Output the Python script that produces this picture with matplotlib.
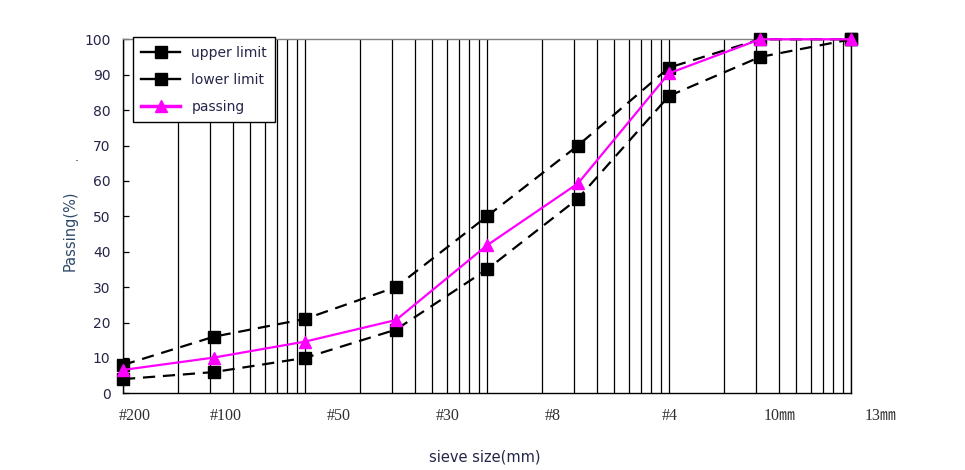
import matplotlib
matplotlib.use("Agg")
import matplotlib.pyplot as plt
from matplotlib.lines import Line2D
from matplotlib.transforms import blended_transform_factory

# sieve positions on the chart's log axis (evenly spaced, half a decade apart)
sieve_x = [0.5, 1.581, 5, 15.81, 50, 158.1, 500, 1581, 5000]

upper = [8, 16, 21, 30, 50, 70, 92, 100, 100]
lower = [4, 6, 10, 18, 35, 55, 84, 95, 100]
passing = [6.6, 10.1, 14.6, 20.7, 41.8, 59.3, 90.4, 100, 100]

# tick labels as printed under the axis (they do not sit on the points)
tick_text = ["#200", "#100", "#50", "#30", "#8", "#4", "10㎜", "13㎜"]
tick_x = [0.58, 1.84, 7.7, 30.5, 115, 506, 2037, 7310]

TXT = "#25254a"

fig = plt.figure(figsize=(9.65, 4.7), dpi=100)
ax = fig.add_axes([123/965, 1 - 393.3/470, 728/965, 354/470])
ax.set_xscale("log")
ax.set_xlim(0.5, 5000)
ax.set_ylim(0, 100)

# vertical grid: 1, 1.5, ... 5 in each decade
for dec in [0.1, 1, 10, 100, 1000]:
    for k in [1, 1.5, 2, 2.5, 3, 3.5, 4, 4.5, 5]:
        v = k * dec
        if 0.5 <= v <= 5000:
            ax.axvline(v, color="black", lw=0.9, zorder=1)

dash = dict(color="black", lw=1.6, dashes=(5.5, 3.5), marker="s", markersize=8.3,
            markerfacecolor="black", markeredgecolor="black", clip_on=False, zorder=3)
ax.plot(sieve_x, upper, **dash)
ax.plot(sieve_x, lower, **dash)
ax.plot(sieve_x, passing, color="#ff00ff", lw=1.6, marker="^", markersize=9,
        markerfacecolor="#ff00ff", markeredgecolor="#ff00ff", clip_on=False, zorder=4)

ax.set_yticks(range(0, 101, 10))
ax.tick_params(axis="y", direction="in", length=4, width=0.9, labelsize=10,
               labelcolor=TXT, pad=9)
ax.set_xticks([])
ax.xaxis.set_minor_locator(matplotlib.ticker.NullLocator())

for s in ["left", "bottom", "right"]:
    ax.spines[s].set_color("black")
    ax.spines[s].set_linewidth(1.0)
ax.spines["top"].set_color("#808080")
ax.spines["top"].set_linewidth(1.0)

tr = blended_transform_factory(ax.transData, ax.transAxes)
for t, x in zip(tick_text, tick_x):
    ax.text(x, -0.064, t, transform=tr, ha="center", va="center", fontsize=11.5,
            family=["Liberation Serif", "Noto Sans CJK KR"], color="#303030", clip_on=False)

fig.text(485/965, 1 - 457/470, "sieve size(mm)", ha="center", va="center",
         fontsize=10.5, color=TXT)
fig.text(70/965, 1 - 231/470, "Passing(%)", ha="center", va="center",
         rotation=90, fontsize=10.5, color="#2e4a6a")
fig.text(77/965, 1 - 158/470, ".", ha="center", va="center", fontsize=9, color=TXT)

handles = [
    Line2D([], [], color="black", lw=1.7, marker="s", markersize=8.5),
    Line2D([], [], color="black", lw=1.7, marker="s", markersize=8.5),
    Line2D([], [], color="#ff00ff", lw=2.5, marker="^", markersize=9),
]
leg = ax.legend(handles, ["upper limit", "lower limit", "passing"],
                loc="upper left", bbox_to_anchor=(0.0137, 1.006), borderaxespad=0,
                fontsize=10, frameon=True, fancybox=False, framealpha=1,
                edgecolor="black", handlelength=2.8, handletextpad=0.8,
                labelspacing=0.95, borderpad=0.6)
leg.get_frame().set_linewidth(1.0)
for t in leg.get_texts():
    t.set_color(TXT)
leg.set_zorder(5)

fig.savefig("out.png", dpi=100)
